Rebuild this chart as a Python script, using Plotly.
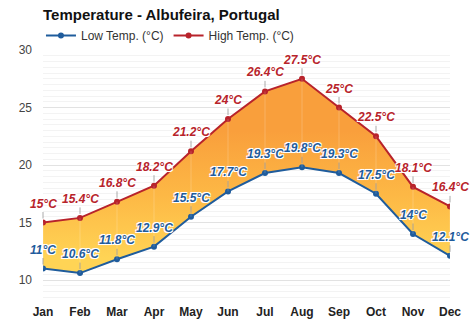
import plotly.graph_objects as go

months = ["Jan", "Feb", "Mar", "Apr", "May", "Jun", "Jul", "Aug", "Sep", "Oct", "Nov", "Dec"]
low_temp = [11, 10.6, 11.8, 12.9, 15.5, 17.7, 19.3, 19.8, 19.3, 17.5, 14, 12.1]
high_temp = [15, 15.4, 16.8, 18.2, 21.2, 24, 26.4, 27.5, 25, 22.5, 18.1, 16.4]
y_ticks = [10, 15, 20, 25, 30]

LOW_COLOR = "#1f5c9c"
HIGH_COLOR = "#b8232b"
FONT = "Liberation Sans, Arial, sans-serif"
OUTLINE = "-1px -1px 0 #fff, 1px -1px 0 #fff, -1px 1px 0 #fff, 1px 1px 0 #fff, 0 0 2px #fff"

x = list(range(len(months)))

fig = go.Figure()

# band between low and high with a warm gradient
fig.add_trace(go.Scatter(x=x, y=low_temp, mode="lines", line=dict(width=0),
                         showlegend=False, hoverinfo="skip"))
fig.add_trace(go.Scatter(
    x=x, y=high_temp, mode="lines", line=dict(width=0), fill="tonexty",
    fillgradient=dict(type="vertical", start=12, stop=23,
                      colorscale=[[0, "#ffd455"], [0.5, "#fdb845"], [1, "#f99f3c"]]),
    showlegend=False, hoverinfo="skip"))

# faint month dividers inside the band
for xi, lo, hi in zip(x, low_temp, high_temp):
    fig.add_shape(type="line", x0=xi, x1=xi, y0=lo, y1=hi,
                  line=dict(color="rgba(255,255,255,0.2)", width=1), layer="above")

fig.add_trace(go.Scatter(x=x, y=low_temp, mode="lines+markers", name="Low Temp. (°C)",
                         line=dict(color=LOW_COLOR, width=2),
                         marker=dict(color=LOW_COLOR, size=6)))
fig.add_trace(go.Scatter(x=x, y=high_temp, mode="lines+markers", name="High Temp. (°C)",
                         line=dict(color=HIGH_COLOR, width=2),
                         marker=dict(color=HIGH_COLOR, size=6)))

def value_label(v):
    return f"{v:g}°C"

for series, color in ((low_temp, LOW_COLOR), (high_temp, HIGH_COLOR)):
    for xi, v in zip(x, series):
        fig.add_annotation(
            x=xi, y=v, text=value_label(v), showarrow=True, arrowhead=0,
            arrowwidth=1, arrowcolor="rgba(150,150,150,0.8)", ax=0, ay=-19,
            standoff=4,
            font=dict(family=FONT, size=12, color=color, weight="bold",
                      style="italic", shadow=OUTLINE))

fig.update_layout(
    width=474, height=331,
    margin=dict(l=43, r=24, t=50, b=26),
    paper_bgcolor="white", plot_bgcolor="white",
    font=dict(family=FONT, color="#333"),
    title=dict(text="<b>Temperature - Albufeira, Portugal</b>", x=43 / 474, xanchor="left",
               y=0.955, yanchor="middle", font=dict(size=15, color="#111")),
    legend=dict(orientation="h", x=-0.005, xanchor="left", y=1.0, yanchor="bottom",
                traceorder="normal",
                font=dict(size=12, color="#333"), itemwidth=30, tracegroupgap=0,
                bgcolor="rgba(0,0,0,0)"),
    showlegend=True,
)
fig.update_xaxes(range=[0, 11], tickvals=x, ticktext=months, showgrid=False,
                 zeroline=False, showline=False, ticks="",
                 tickfont=dict(size=12, color="#222", family=FONT, weight="bold"))
fig.update_yaxes(range=[8, 30], tickvals=y_ticks, showgrid=True, gridcolor="#e2e2e2",
                 gridwidth=1, zeroline=False, showline=False, ticks="",
                 ticklabelstandoff=10,
                 minor=dict(dtick=0.5, tick0=0, showgrid=True, gridcolor="#f3f3f3"),
                 tickfont=dict(size=12, color="#444", family=FONT))

fig.write_html("out.html")
